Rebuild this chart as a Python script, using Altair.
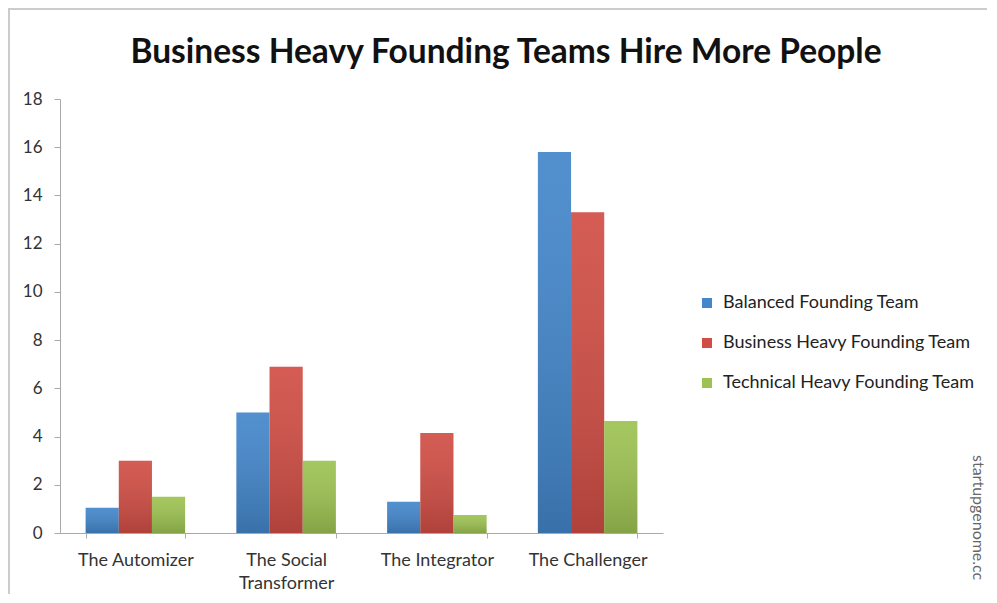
import altair as alt
import pandas as pd

categories = ["The Automizer", "The Social Transformer", "The Integrator", "The Challenger"]
series = ["Balanced Founding Team", "Business Heavy Founding Team", "Technical Heavy Founding Team"]
balanced = [1.05, 5.0, 1.3, 15.8]
business = [3.0, 6.9, 4.15, 13.3]
technical = [1.5, 3.0, 0.75, 4.65]
colors = ["#4386ca", "#d04e45", "#9dc252"]
y_ticks = [0, 2, 4, 6, 8, 10, 12, 14, 16, 18]
title_text = "Business Heavy Founding Teams Hire More People"
watermark = "startupgenome.cc"

rows = []
for i, c in enumerate(categories):
    for s, vals in zip(series, [balanced, business, technical]):
        rows.append({"category": c, "series": s, "value": vals[i]})
df = pd.DataFrame(rows)

FONT = "Lato"
W, H = 603, 434
PAD = {"left": 52, "top": 91, "right": 324, "bottom": 61}

x_enc = alt.X(
    "category:N",
    sort=categories,
    scale=alt.Scale(paddingInner=0.34, paddingOuter=0.17),
    axis=alt.Axis(
        title=None,
        labelAngle=0,
        tickBand="extent",
        tickSize=5,
        tickColor="#aaaaaa",
        domainColor="#aaaaaa",
        labelFont=FONT,
        labelFontSize=18,
        labelColor="#333333",
        labelPadding=13,
        labelLineHeight=23,
        labelBaseline="top",
        labelExpr="datum.value == 'The Social Transformer' ? ['The Social', 'Transformer'] : datum.value",
    ),
)
y_enc = alt.Y(
    "value:Q",
    scale=alt.Scale(domain=[0, 18], nice=False),
    axis=alt.Axis(
        title=None,
        values=y_ticks,
        grid=False,
        tickSize=6,
        tickColor="#aaaaaa",
        domainColor="#aaaaaa",
        labelFont=FONT,
        labelFontSize=17,
        labelColor="#333333",
        labelPadding=12,
    ),
)
xoff = alt.XOffset("series:N", sort=series, scale=alt.Scale(domain=series, paddingInner=0, paddingOuter=0))

base = alt.Chart(df)

bars = base.mark_bar().encode(
    x=x_enc,
    xOffset=xoff,
    y=y_enc,
    color=alt.Color(
        "series:N",
        sort=series,
        scale=alt.Scale(domain=series, range=colors),
        legend=alt.Legend(
            title=None,
            orient="none",
            legendX=638,
            legendY=195,
            symbolType="square",
            symbolSize=100,
            symbolStrokeWidth=0,
            labelFont=FONT,
            labelFontSize=18,
            labelColor="#222222",
            labelOffset=7,
            rowPadding=22,
            labelLimit=400,
        ),
    ),
)

shade = base.mark_bar(
    color=alt.Gradient(
        gradient="linear",
        stops=[
            alt.GradientStop(offset=0, color="rgba(255,255,255,0.08)"),
            alt.GradientStop(offset=1, color="rgba(0,0,0,0.16)"),
        ],
        x1=0, x2=0, y1=0, y2=1,
    )
).encode(x=x_enc, xOffset=xoff, y=y_enc)

one = pd.DataFrame({"label": [watermark], "title": [title_text]})

title = alt.Chart(one).mark_text(
    align="center", baseline="middle", font=FONT, fontSize=33.5, fontWeight="bold", color="#111111"
).encode(text="title:N", x=alt.value(446), y=alt.value(-46))

wm = alt.Chart(one).mark_text(
    angle=90, align="left", baseline="middle", font=FONT, fontSize=16, color="#666666"
).encode(text="label:N", x=alt.value(918), y=alt.value(356))

frame_left = alt.Chart(one).mark_rule(color="#cccccc", strokeWidth=2).encode(
    x=alt.value(-51), y=alt.value(-91), y2=alt.value(H + PAD["bottom"])
)
frame_top = alt.Chart(one).mark_rule(color="#cccccc", strokeWidth=2).encode(
    y=alt.value(-90), x=alt.value(-52), x2=alt.value(W + PAD["right"])
)

chart = alt.layer(bars, shade, title, wm, frame_left, frame_top).properties(
    width=W,
    height=H,
    padding=PAD,
    autosize=alt.AutoSizeParams(type="none"),
).configure_view(stroke=None)

chart.save("out.html", embed_options={"renderer": "svg", "actions": False})
